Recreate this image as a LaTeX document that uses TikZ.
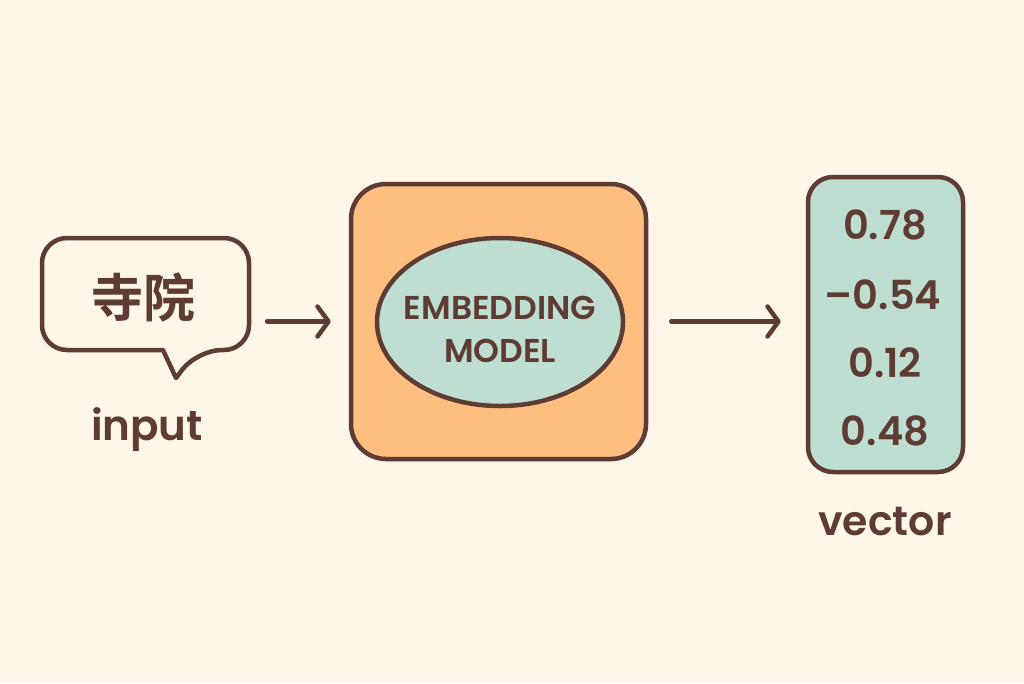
\documentclass[tikz,border=0pt]{standalone}
\usepackage{fontspec}
\setmainfont{Poppins}[UprightFont=* SemiBold]
\newfontfamily\cjk{Noto Sans CJK SC}[UprightFont=* Bold]
\usetikzlibrary{arrows.meta,shapes.geometric}
\definecolor{bg}{HTML}{FDF6E9}
\definecolor{ink}{HTML}{5E3B33}
\definecolor{orangef}{HTML}{FDBE7F}
\definecolor{tealf}{HTML}{BEDED1}
\tikzset{
  outline/.style={draw=ink, line width=4.5pt},
  arr/.style={draw=ink, line width=4.5pt, line cap=round, -{Straight Barb[length=11pt,width=30pt,line cap=round,line join=round]}},
  lbl/.style={text=ink, inner sep=0pt},
  num/.style={lbl, font=\fontsize{40}{40}\selectfont, anchor=base},
}
\begin{document}
\begin{tikzpicture}[x=1pt,y=-1pt,line join=round]
\fill[bg] (0,0) rectangle (1024,683);
\useasboundingbox (0,0) rectangle (1024,683);

% speech bubble
\draw[outline,fill=bg,rounded corners=25pt] (42,294) |- (249,238) |- (197,350) [sharp corners] -- (176,378) -- (163,350) [rounded corners=25pt] -| cycle;
\node[inner sep=0pt, minimum width=207, minimum height=112] (bubble) at (145.5,294) {};
\node[lbl, font=\cjk\fontsize{52}{52}\selectfont] (word) at (143,297) {寺院};
\node[lbl, font=\fontsize{42}{42}\selectfont, anchor=base] (input) at (147,440) {input};

% model
\node[outline, fill=orangef, rounded corners=35pt, minimum width=295, minimum height=275] (model) at (498.5,321.5) {};
\node[outline, fill=tealf, ellipse, minimum width=246, minimum height=168] (ell) at (500,322) {};
\node[lbl, font=\fontsize{33}{43}\selectfont, align=center] (mtext) at (500,329) {EMBEDDING\\MODEL};

% vector
\node[outline, fill=tealf, rounded corners=25pt, minimum width=155, minimum height=295] (vec) at (885.5,324.5) {};
\node[num] (v1) at (885,239) {0.78};
\node[num] (v2) at (883,309) {–0.54};
\node[num] (v3) at (885,377) {0.12};
\node[num] (v4) at (885,445) {0.48};
\node[lbl, font=\fontsize{41}{41}\selectfont, anchor=base] (vlabel) at (885,535) {vector};

% arrows
\draw[arr, shorten <=18pt, shorten >=18pt] (bubble.east |- model) -- (model.west);
\draw[arr, shorten <=23pt, shorten >=25pt] (model.east) -- (model.east -| vec.west);
\end{tikzpicture}
\end{document}
